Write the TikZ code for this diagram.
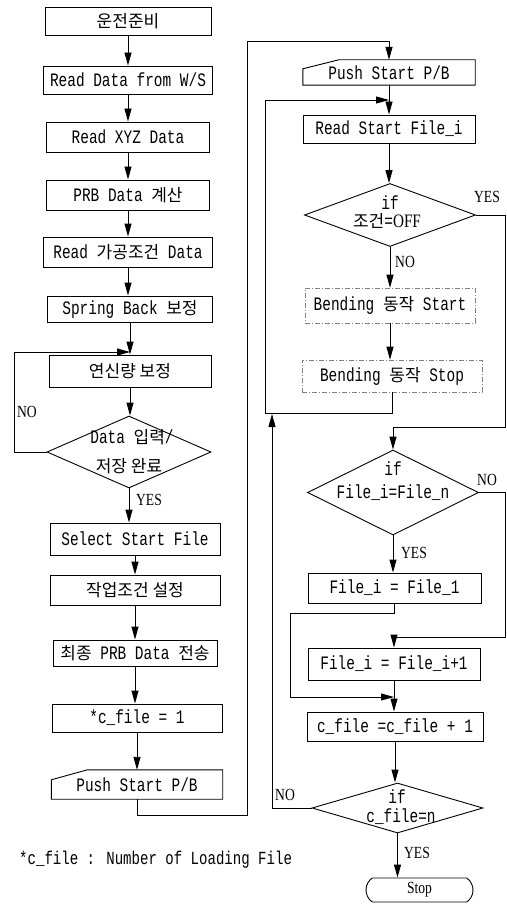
\documentclass[tikz,border=0pt]{standalone}
\usepackage{fontspec}
\setmainfont{Liberation Mono}[FakeStretch=0.76]
\newfontfamily\krf{Noto Sans CJK KR}
\newfontfamily\lblf{Liberation Serif}[FakeStretch=0.8]
\newcommand\kor[1]{{\krf\fontsize{17}{17}\selectfont #1}}
\usetikzlibrary{arrows.meta,shapes.geometric,shapes.misc}
\tikzset{
  ln/.style={line width=0.9pt},
  box/.style={draw, line width=0.9pt, inner sep=0pt, align=center, font=\fontsize{19}{20}\selectfont},
  ghost/.style={inner sep=0pt, align=center, font=\fontsize{19}{20}\selectfont},
  dbox/.style={box, draw=black!50, line width=0.6pt, dash pattern=on 5pt off 2pt on 1pt off 2pt},
  dia/.style={draw, diamond, line width=0.9pt, inner sep=0pt},
  dtext/.style={inner sep=0pt, align=center, font=\fontsize{19}{20}\selectfont},
  arr/.style={line width=0.9pt, -{Triangle[length=13pt,width=7pt]}},
  lab/.style={inner sep=0pt, font=\lblf\fontsize{17}{17}\selectfont},
}
\begin{document}
\begin{tikzpicture}[x=1pt,y=-1pt]
\useasboundingbox (0,0) rectangle (506,904);
% ---------- left column ----------
\node[box, minimum width=166pt, minimum height=28pt] (n1) at (128,21) {\kor{운전준비}};
\node[box, minimum width=169pt, minimum height=28pt] (n2) at (128,80) {Read Data from W/S};
\node[box, minimum width=163pt, minimum height=30pt] (n3) at (128,137) {Read XYZ Data};
\node[box, minimum width=163pt, minimum height=30pt] (n4) at (128,195) {PRB Data \kor{계산}};
\node[box, minimum width=169pt, minimum height=30pt] (n5) at (128,252) {Read \kor{가공조건} Data};
\node[box, minimum width=165pt, minimum height=26pt] (n6) at (130,309) {Spring Back \kor{보정}};
\node[box, minimum width=162pt, minimum height=32pt] (n7) at (130,371) {\kor{연신량 보정}};
\node[dia, minimum width=164pt, minimum height=72pt] (d1) at (129,452) {};
\node[dtext] (d1a) at (132,437) {Data \kor{입력}/};
\node[dtext] (d1b) at (129,466) {\kor{저장 완료}};
\node[box, minimum width=170pt, minimum height=32pt] (n8) at (135,539) {Select Start File};
\node[box, minimum width=170pt, minimum height=30pt] (n9) at (135,590) {\kor{작업조건 설정}};
\node[box, minimum width=164pt, minimum height=26pt] (n10) at (135,653) {\kor{최종} PRB Data \kor{전송}};
\node[box, minimum width=170pt, minimum height=28pt] (n11) at (137,718) {*c\_file = 1};
\node[ghost, minimum width=171pt, minimum height=29pt] (n12) at (137,784.5) {Push Start P/B};
\draw[ln] ([yshift=-10pt]n12.north west) -- ([xshift=36pt]n12.north west) -- (n12.north east) -- (n12.south east) -- (n12.south west) -- cycle;

\draw[arr] (n1.south) -- (n1.south |- n2.north);
\draw[arr] (n2.south) -- (n2.south |- n3.north);
\draw[arr] (n3.south) -- (n3.south |- n4.north);
\draw[arr] (n4.south) -- (n4.south |- n5.north);
\draw[arr] (n5.south) -- (n5.south |- n6.north);
\draw[arr] (n6.south) -- (n6.south |- n7.north);
\draw[arr] (n7.south) -- (n7.south |- d1.north);
\draw[arr] (d1.south) -- (d1.south |- n8.north);
\draw[arr] (n8.south) -- (n8.south |- n9.north);
\draw[arr] (n9.south) -- (n9.south |- n10.north);
\draw[arr] (n10.south) -- (n10.south |- n11.north);
\draw[arr] (n11.south) -- (n11.south |- n12.north);
\coordinate (cL) at (14,352);
\coordinate (jL) at (130,352);
\draw[arr] (d1.west) -| (cL) -- (jL);
\node[lab] (noL) at (27,412) {NO};
\node[lab] (yesL) at (149,500) {YES};

% ---------- right column ----------
\node[ghost, minimum width=172pt, minimum height=25pt] (r1) at (389,72.5) {Push Start P/B};
\draw[ln] ([yshift=-9pt]r1.north west) -- ([xshift=36pt]r1.north west) -- (r1.north east) -- (r1.south east) -- (r1.south west) -- cycle;
\node[box, minimum width=172pt, minimum height=28pt] (r2) at (389,129) {Read Start File\_i};
\node[dia, minimum width=171pt, minimum height=63pt] (rd1) at (390,215) {};
\node[dtext] (rd1a) at (390,203) {if};
\node[dtext] (rd1b) at (387,221) {\kor{조건}=\lblf OFF};
\node[dbox, minimum width=170pt, minimum height=35pt] (r3) at (390,305.5) {Bending \kor{동작} Start};
\node[dbox, minimum width=180pt, minimum height=32pt] (r4) at (392,376) {Bending \kor{동작} Stop};
\node[dia, minimum width=171pt, minimum height=85pt] (rd2) at (393,492.5) {};
\node[dtext] (rd2a) at (393,469) {if};
\node[dtext] (rd2b) at (393,493) {File\_i=File\_n};
\node[box, minimum width=173pt, minimum height=30pt] (r5) at (394.5,588) {File\_i = File\_1};
\node[box, minimum width=172pt, minimum height=32pt] (r6) at (394,664) {File\_i = File\_i+1};
\node[box, minimum width=176pt, minimum height=29pt] (r7) at (395,726.5) {c\_file =c\_file + 1};
\node[dia, minimum width=171pt, minimum height=50pt] (rd3) at (397.5,808) {};
\node[dtext] (rd3a) at (397,797) {if};
\node[dtext] (rd3b) at (401,817) {c\_file=n};
\node[draw, rounded rectangle, rounded rectangle arc length=110, line width=0.9pt, inner sep=0pt, minimum width=107pt, minimum height=24pt, font=\lblf\fontsize{17}{17}\selectfont] (stop) at (419.5,890) {Stop};

% top connector from left column
\coordinate (c1) at (247,815);
\coordinate (c2) at (247,41);
\draw[arr] (n12.south) |- (c1) -- (c2) -| (r1.north);
\draw[arr] (r1.south) -- (r1.south |- r2.north);
\draw[arr] (r2.south) -- (r2.south |- rd1.north);
\draw[arr] (rd1.south) -- (rd1.south |- r3.north);
\draw[arr] (r3.south) -- (r3.south |- r4.north);
% bending loop
\coordinate (c3) at (265,413);
\coordinate (j1) at (389,100);
\draw[arr] (r4.south) |- (c3) |- (j1);
% YES from rd1
\coordinate (c4) at (505,427);
\draw[arr] (rd1.east) -| (c4) -| (rd2.north);
\node[lab] (yes1) at (487,197) {YES};
\node[lab] (no1) at (405,262) {NO};
% rd2
\draw[arr] (rd2.south) -- (rd2.south |- r5.north);
\coordinate (c5) at (505,637);
\draw[arr] (rd2.east) -| (c5) -| (r6.north);
\node[lab] (no2) at (487,480) {NO};
\node[lab] (yes2) at (414,553) {YES};
% bypass from r5
\coordinate (c6) at (290,613);
\coordinate (j2) at (394,697);
\draw[arr] (r5.south) |- (c6) |- (j2);
\draw[arr] (r6.south) -- (r6.south |- r7.north);
\draw[arr] (r7.south) -- (r7.south |- rd3.north);
% rd3
\coordinate (c7) at (272,414);
\draw[arr] (rd3.west) -| (c7);
\node[lab] (no3) at (285,795) {NO};
\draw[arr] (rd3.south) -- (rd3.south |- stop.north);
\node[lab] (yes3) at (417,853) {YES};

% footnote
\node[inner sep=0pt, anchor=west, font=\fontsize{18.5}{20}\selectfont] (fn) at (19,860) {*c\_file : Number of Loading File};
\end{tikzpicture}
\end{document}
